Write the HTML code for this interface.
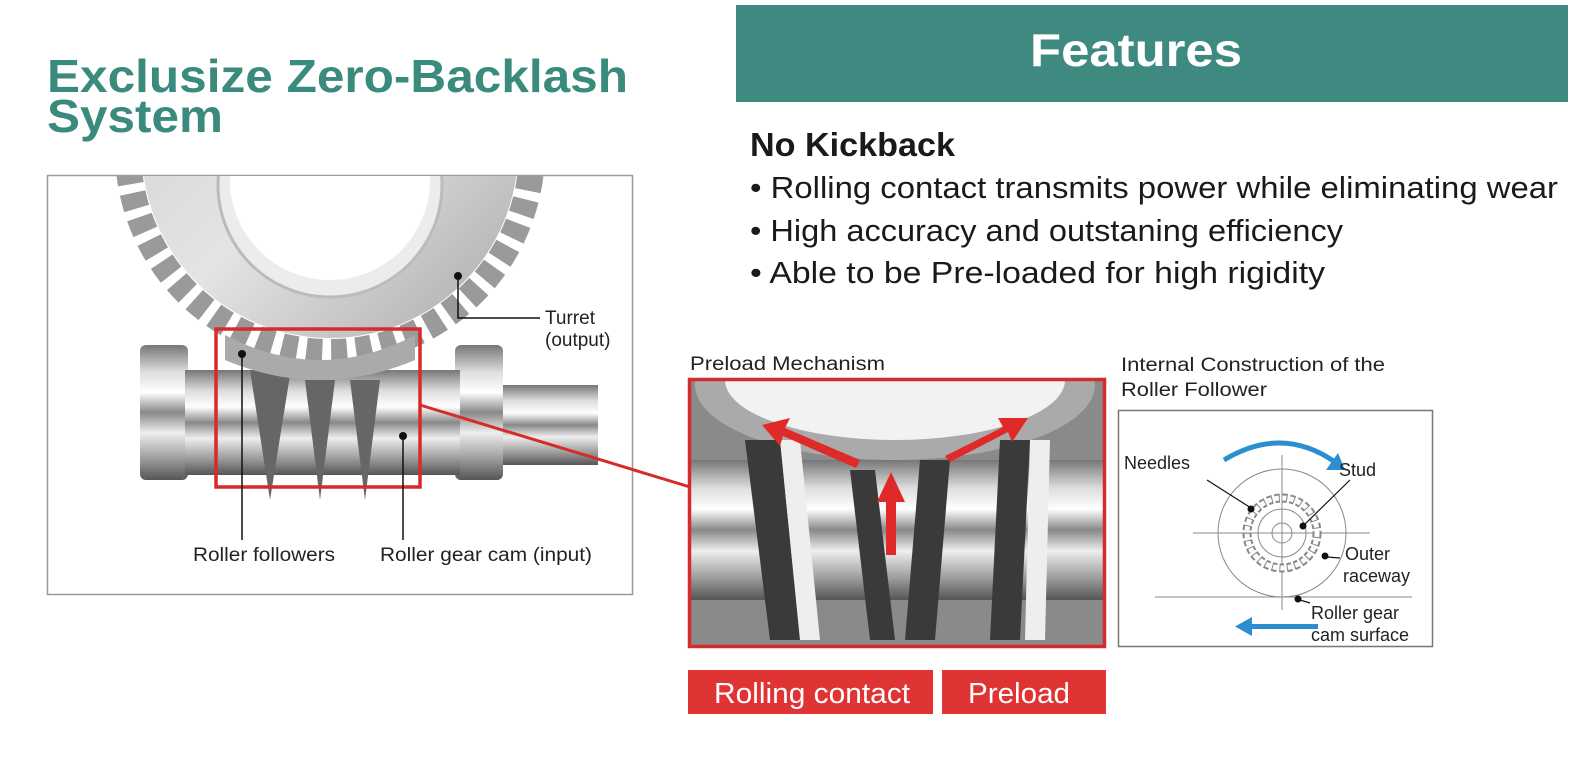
<!DOCTYPE html>
<html><head><meta charset="utf-8"><style>
html,body{margin:0;padding:0;background:#fff;}
body{width:1588px;height:766px;overflow:hidden;position:relative;font-family:"Liberation Sans",sans-serif;}
</style></head><body>
<svg width="1588" height="766" viewBox="0 0 1588 766" xmlns="http://www.w3.org/2000/svg" style="position:absolute;left:0;top:0">
<defs>
<linearGradient id="shaft" x1="0" y1="0" x2="0" y2="1">
<stop offset="0" stop-color="#777"/><stop offset="0.2" stop-color="#ddd"/><stop offset="0.35" stop-color="#fff"/><stop offset="0.5" stop-color="#888"/><stop offset="0.65" stop-color="#eee"/><stop offset="0.85" stop-color="#999"/><stop offset="1" stop-color="#555"/>
</linearGradient>
<linearGradient id="disk" x1="0" y1="0" x2="1" y2="1">
<stop offset="0" stop-color="#cfcfcf"/><stop offset="0.5" stop-color="#e4e4e4"/><stop offset="1" stop-color="#a9a9a9"/>
</linearGradient>
<clipPath id="c1"><rect x="48" y="176" width="584" height="418"/></clipPath>
<clipPath id="c2"><rect x="690" y="380" width="414" height="266"/></clipPath>
</defs>

<text x="47" y="92" font-weight="bold" font-size="46" fill="#3a8a7e" textLength="581" lengthAdjust="spacingAndGlyphs">Exclusize Zero-Backlash</text>
<text x="47" y="132" font-weight="bold" font-size="46" fill="#3a8a7e" textLength="176" lengthAdjust="spacingAndGlyphs">System</text>

<rect x="736" y="5" width="832" height="97" fill="#3f8a80"/>
<text x="1030" y="66" font-weight="bold" font-size="46" fill="#fff" textLength="212" lengthAdjust="spacingAndGlyphs">Features</text>

<text x="750" y="156" font-weight="bold" font-size="33" fill="#1a1a1a" textLength="205" lengthAdjust="spacingAndGlyphs">No Kickback</text>
<text x="750" y="198" font-size="31" fill="#1a1a1a" textLength="808" lengthAdjust="spacingAndGlyphs">• Rolling contact transmits power while eliminating wear</text>
<text x="750" y="241" font-size="31" fill="#1a1a1a" textLength="593" lengthAdjust="spacingAndGlyphs">• High accuracy and outstaning efficiency</text>
<text x="750" y="283" font-size="31" fill="#1a1a1a" textLength="575" lengthAdjust="spacingAndGlyphs">• Able to be Pre-loaded for high rigidity</text>

<rect x="47.5" y="175.5" width="585" height="419" fill="#fff" stroke="#999" stroke-width="1.5"/>
<g clip-path="url(#c1)">
 <circle cx="330" cy="150" r="202" fill="none" stroke="#9a9a9a" stroke-width="26" stroke-dasharray="16 9"/>
 <circle cx="330" cy="150" r="188" fill="url(#disk)"/>
 <circle cx="330" cy="185" r="112" fill="#ececec" stroke="#bbb" stroke-width="3"/>
 <circle cx="330" cy="180" r="100" fill="#fff"/>
 <rect x="500" y="385" width="98" height="80" fill="url(#shaft)"/>
 <rect x="140" y="345" width="48" height="135" rx="6" fill="url(#shaft)"/>
 <rect x="455" y="345" width="48" height="135" rx="6" fill="url(#shaft)"/>
 <rect x="185" y="370" width="275" height="105" fill="url(#shaft)"/>
 <path d="M250 370 L270 500 L290 375 Z M305 380 L320 500 L335 380 Z M350 380 L365 500 L380 380 Z" fill="#666"/>
 <path d="M225 335 Q320 385 415 335 L415 360 Q320 400 225 360 Z" fill="#aaa"/>
</g>
<rect x="216" y="329" width="204" height="158" fill="none" stroke="#d62b2b" stroke-width="3.5"/>
<g stroke="#111" stroke-width="1.5" fill="none">
 <path d="M458 276 L458 318 L540 318"/>
 <path d="M242 354 L242 540"/>
 <path d="M403 436 L403 540"/>
</g>
<circle cx="458" cy="276" r="4" fill="#111"/><circle cx="242" cy="354" r="4" fill="#111"/><circle cx="403" cy="436" r="4" fill="#111"/>
<g font-size="19" fill="#222">
<text x="545" y="324">Turret</text><text x="545" y="346">(output)</text>
<text x="193" y="561" textLength="142" lengthAdjust="spacingAndGlyphs">Roller followers</text>
<text x="380" y="561" textLength="212" lengthAdjust="spacingAndGlyphs">Roller gear cam (input)</text>
</g>

<line x1="420" y1="405" x2="690" y2="487" stroke="#d62b2b" stroke-width="3"/>

<text x="690" y="370" font-size="19" fill="#222" textLength="195" lengthAdjust="spacingAndGlyphs">Preload Mechanism</text>
<g clip-path="url(#c2)">
 <rect x="690" y="380" width="414" height="266" fill="#8a8a8a"/>
 <ellipse cx="895" cy="385" rx="200" ry="75" fill="#aaa"/>
 <ellipse cx="895" cy="380" rx="170" ry="60" fill="#f2f2f2"/>
 <rect x="690" y="460" width="414" height="140" fill="url(#shaft)"/>
 <path d="M745 440 L780 440 L800 640 L770 640 Z M850 470 L875 470 L895 640 L870 640 Z M920 460 L950 460 L935 640 L905 640 Z M1000 440 L1030 440 L1020 640 L990 640 Z" fill="#3a3a3a"/>
 <path d="M780 440 L800 440 L820 640 L800 640 Z M1030 440 L1050 440 L1045 640 L1025 640 Z" fill="#eee"/>
</g>
<rect x="689.5" y="379.5" width="415" height="267" fill="none" stroke="#d62b2b" stroke-width="3.5"/>
<g fill="#e02a2a">
 <path d="M860 460 L785 428 L790 418 L762 425 L780 446 L783 436 L856 468 Z"/>
 <path d="M950 462 L1008 432 L1012 442 L1028 418 L998 418 L1003 427 L945 456 Z"/>
 <path d="M886 555 L886 502 L877 502 L891 472 L905 502 L896 502 L896 555 Z"/>
</g>

<rect x="688" y="670" width="245" height="44" fill="#e03434"/>
<rect x="942" y="670" width="164" height="44" fill="#e03434"/>
<text x="714" y="703" font-size="29" fill="#fff" textLength="196" lengthAdjust="spacingAndGlyphs">Rolling contact</text>
<text x="968" y="703" font-size="29" fill="#fff" textLength="102" lengthAdjust="spacingAndGlyphs">Preload</text>

<text x="1121" y="371" font-size="19" fill="#222" textLength="264" lengthAdjust="spacingAndGlyphs">Internal Construction of the</text>
<text x="1121" y="396" font-size="19" fill="#222" textLength="146" lengthAdjust="spacingAndGlyphs">Roller Follower</text>
<rect x="1118.5" y="410.5" width="314" height="236" fill="#fff" stroke="#777" stroke-width="1.5"/>
<g stroke="#888" stroke-width="1" fill="none">
 <line x1="1193" y1="533" x2="1370" y2="533"/>
 <line x1="1282" y1="455" x2="1282" y2="610"/>
 <line x1="1155" y1="597" x2="1412" y2="597"/>
 <circle cx="1282" cy="533" r="64"/>
 <circle cx="1282" cy="533" r="24"/>
 <circle cx="1282" cy="533" r="10"/>
</g>
<circle cx="1282" cy="533" r="35" fill="none" stroke="#888" stroke-width="9" stroke-dasharray="5 2.5"/>
<circle cx="1282" cy="533" r="35" fill="none" stroke="#fff" stroke-width="5" stroke-dasharray="4 3.5"/>
<path d="M1224 460 Q1282 425 1335 462" fill="none" stroke="#2b8ed0" stroke-width="5"/>
<path d="M1345 470 L1326 470 L1338 453 Z" fill="#2b8ed0"/>
<rect x="1250" y="624" width="68" height="5" fill="#2b8ed0"/>
<path d="M1235 626.5 L1252 617 L1252 636 Z" fill="#2b8ed0"/>
<g stroke="#111" stroke-width="1.2">
 <line x1="1207" y1="480" x2="1251" y2="508"/>
 <line x1="1350" y1="480" x2="1304" y2="525"/>
 <line x1="1340" y1="558" x2="1327" y2="557"/>
 <line x1="1310" y1="603" x2="1300" y2="600"/>
</g>
<g fill="#111"><circle cx="1251" cy="509" r="3.5"/><circle cx="1303" cy="526" r="3.5"/><circle cx="1325" cy="556" r="3.5"/><circle cx="1298" cy="599" r="3.5"/></g>
<g font-size="18" fill="#222">
<text x="1124" y="469">Needles</text>
<text x="1339" y="476">Stud</text>
<text x="1345" y="560">Outer</text><text x="1343" y="582">raceway</text>
<text x="1311" y="619">Roller gear</text><text x="1311" y="641">cam surface</text>
</g>
</svg>
</body></html>
